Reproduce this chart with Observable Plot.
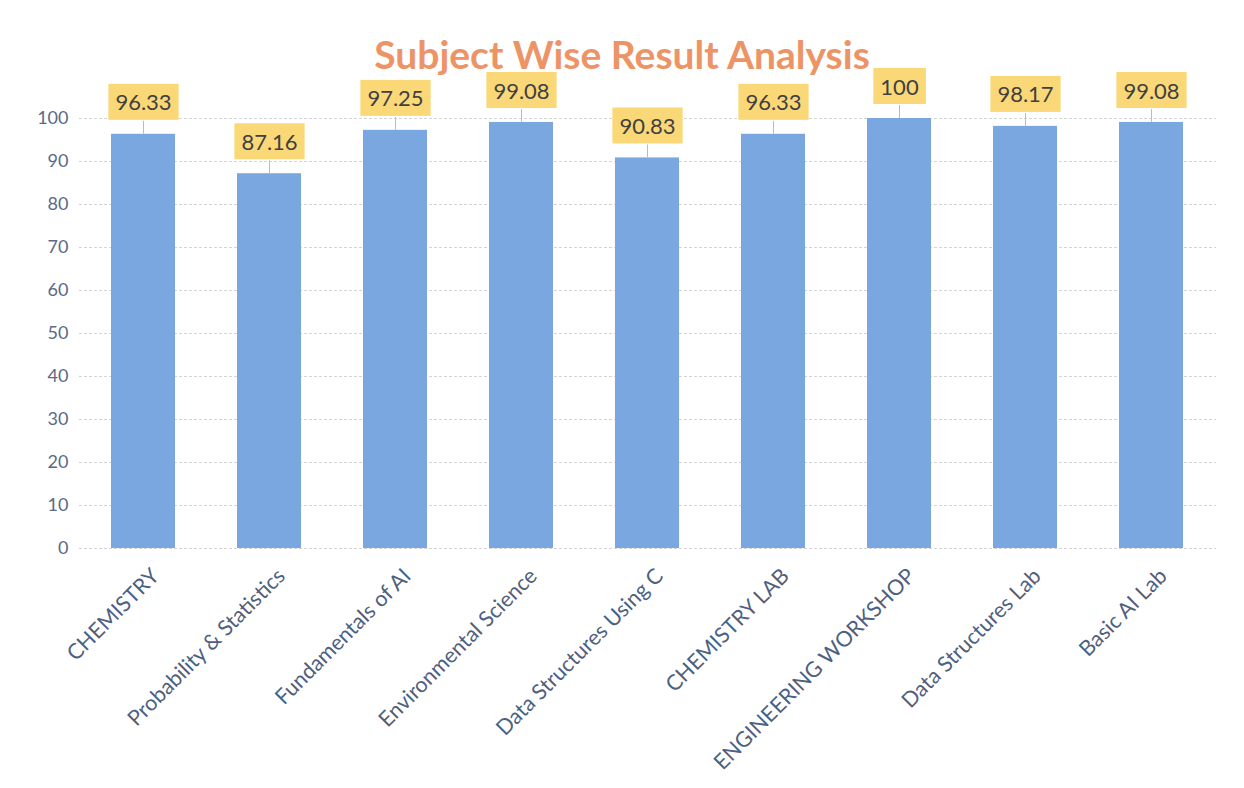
<!DOCTYPE html>
<html>
<head>
<meta charset="utf-8">
<script src="https://cdn.jsdelivr.net/npm/d3@7"></script>
<script src="https://cdn.jsdelivr.net/npm/@observablehq/plot@0.6"></script>
<style>
  html, body { margin: 0; padding: 0; background: #fff; }
  #wrap { position: relative; width: 1244px; height: 788px; }
  #title { position: absolute; left: 0; width: 1244px; top: 31px; text-align: center;
    font-family: Lato, "Open Sans", sans-serif; font-weight: bold; font-size: 39px; color: #ec9466; }
  #chart { position: absolute; left: 0; top: 0; }
</style>
</head>
<body>
<div id="wrap">
  <div id="chart"></div>
  <div id="title">Subject Wise Result Analysis</div>
</div>
<script>
const subjects = ["CHEMISTRY", "Probability & Statistics", "Fundamentals of AI", "Environmental Science",
  "Data Structures Using C", "CHEMISTRY LAB", "ENGINEERING WORKSHOP", "Data Structures Lab", "Basic AI Lab"];
const results = [96.33, 87.16, 97.25, 99.08, 90.83, 96.33, 100, 98.17, 99.08];
const yTicks = [0, 10, 20, 30, 40, 50, 60, 70, 80, 90, 100];

const data = subjects.map((s, i) => ({subject: s, value: results[i]}));

const chart = Plot.plot({
  width: 1244,
  height: 788,
  marginLeft: 79,
  marginRight: 28,
  marginTop: 118,
  marginBottom: 240,
  style: {fontFamily: "Lato, 'Open Sans', sans-serif", background: "transparent"},
  x: {domain: subjects, paddingInner: 0.49, paddingOuter: 0.245, label: null},
  y: {domain: [0, 100], label: null},
  marks: [
    Plot.gridY(yTicks, {stroke: "#d4d4d4", strokeOpacity: 1, strokeDasharray: "3,2"}),
    Plot.barY(data, {x: "subject", y: "value", fill: "#7ba7e0"}),
    Plot.ruleX(data, {x: "subject", y1: "value", y2: d => d.value + 3, stroke: "#a9bde0", strokeWidth: 1}),
    Plot.text(data, {x: "subject", y: "value", text: d => String(d.value), dy: -31,
      fontSize: 22, fill: "#404040"}),
    Plot.axisY(yTicks, {tickSize: 0, tickPadding: 11, fontSize: 18, color: "#5b6987", tickFormat: d => d}),
    Plot.axisX({tickSize: 0, tickRotate: -45, tickPadding: 24, dx: 12, fontSize: 21.5, color: "#4e5f80"})
  ]
});
document.getElementById("chart").appendChild(chart);

// draw yellow boxes behind value labels
const labelSet = new Set(results.map(String));
chart.querySelectorAll("text").forEach(t => {
  const p = t.closest("g[aria-label]");
  const al = p ? p.getAttribute("aria-label") : "";
  if (al.includes("axis")) return;
  if (!labelSet.has(t.textContent)) return;
  const b = t.getBBox();
  const w = Math.max(b.width + 14, 40), h = 36;
  const r = document.createElementNS("http://www.w3.org/2000/svg", "rect");
  const cx = b.x + b.width / 2, cy = b.y + b.height / 2;
  r.setAttribute("x", cx - w / 2);
  r.setAttribute("y", cy - h / 2);
  r.setAttribute("width", w);
  r.setAttribute("height", h);
  r.setAttribute("fill", "#fad878");
  const tr = t.getAttribute("transform");
  if (tr) r.setAttribute("transform", tr);
  t.parentNode.insertBefore(r, t);
});
</script>
</body>
</html>
